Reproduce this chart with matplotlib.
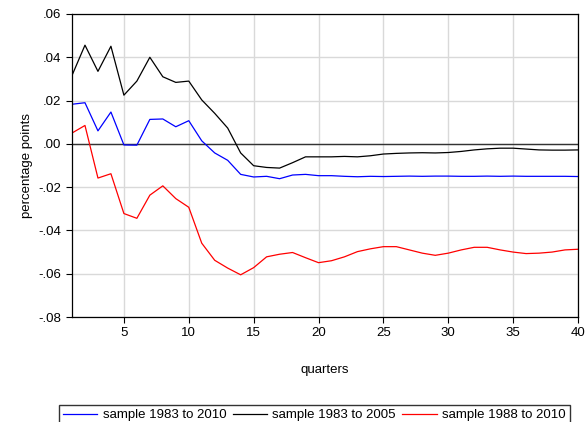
import matplotlib
matplotlib.use("Agg")
import matplotlib.pyplot as plt
plt.rcParams['font.family'] = ['Liberation Sans', 'DejaVu Sans']

quarters = list(range(1, 41))
s1983_2010 = [.0183,.019,.006,.0147,-.0005,-.0006,.0113,.0115,.0079,.0107,.0014,-.0042,-.0076,-.0141,-.0153,-.015,-.0161,-.0144,-.0141,-.0147,
              -.0147,-.015,-.0152,-.015,-.0151,-.015,-.0149,-.015,-.0149,-.0149,-.015,-.015,-.0149,-.015,-.0149,-.015,-.015,-.015,-.015,-.0151]
s1983_2005 = [.0316,.0456,.0335,.0451,.0225,.029,.040,.031,.0284,.029,.0203,.0141,.0073,-.0042,-.0101,-.0109,-.0112,-.0087,-.006,-.006,
              -.006,-.0058,-.006,-.0055,-.0047,-.0044,-.0042,-.0041,-.0042,-.004,-.0035,-.0028,-.0023,-.002,-.002,-.0024,-.0028,-.0029,-.0029,-.0028]
s1988_2010 = [.005,.0085,-.0158,-.0138,-.0322,-.0344,-.0237,-.0194,-.0253,-.0293,-.0459,-.0538,-.0574,-.0605,-.0572,-.0522,-.051,-.0502,-.0526,-.0549,
              -.054,-.0522,-.0498,-.0485,-.0475,-.0475,-.049,-.0505,-.0515,-.0505,-.049,-.0478,-.0478,-.049,-.05,-.0507,-.0505,-.05,-.049,-.0487]

fig = plt.figure(figsize=(5.87, 4.22), dpi=100)
ax = fig.add_axes([72/587, 1-317/422, (578-72)/587, (317-14)/422])
ax.set_xlim(1, 40)
ax.set_ylim(-0.08, 0.06)
ax.set_xticks([5,10,15,20,25,30,35,40])
yt = [-.08,-.06,-.04,-.02,0,.02,.04,.06]
ax.set_yticks(yt)
ax.set_yticklabels([f"{v:.2f}".replace("0.", ".") if v != 0 else ".00" for v in yt])
ax.grid(True, color="#d9d9d9", linewidth=1)
ax.set_axisbelow(True)
ax.axhline(0, color="#333333", linewidth=1)
ax.plot(quarters, s1983_2010, color="#0000ff", lw=0.9, label="sample 1983 to 2010")
ax.plot(quarters, s1983_2005, color="black", lw=0.9, label="sample 1983 to 2005")
ax.plot(quarters, s1988_2010, color="#ff0000", lw=0.9, label="sample 1988 to 2010")
ax.tick_params(labelsize=9.5, length=4)
for s in ax.spines.values():
    s.set_linewidth(0.9)
ax.set_ylabel("percentage points", fontsize=9.5)
ax.set_xlabel("quarters", fontsize=9.5, labelpad=18)
fig.legend(loc="upper left", bbox_to_anchor=(59/587, 1-405/422), ncol=3, fontsize=9.5,
           frameon=True, fancybox=False, edgecolor="black", handlelength=2.6,
           columnspacing=0.5, borderpad=0.3, handletextpad=0.4, borderaxespad=0)
fig.savefig("out.png", dpi=100)
